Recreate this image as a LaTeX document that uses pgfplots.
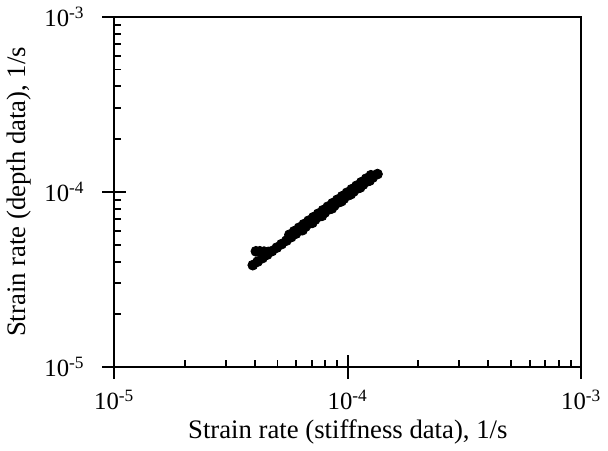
\documentclass[border=0pt]{standalone}
\usepackage{fontspec}
\setmainfont{Liberation Serif}
\usepackage{pgfplots}
\pgfplotsset{compat=1.18}
\begin{document}
\begin{tikzpicture}
\begin{axis}[
 xmode=log, ymode=log,
 scale only axis, width=236pt, height=177pt,
 xmin=1e-5, xmax=1e-3, ymin=1e-5, ymax=1e-3,
 clip=false,
 axis line style={line width=1pt},
 xtick={1e-5,1e-4,1e-3}, ytick={1e-5,1e-4,1e-3},
 xticklabels={10\textsuperscript{-5},10\textsuperscript{-4},10\textsuperscript{-3}},
 yticklabels={10\textsuperscript{-5},10\textsuperscript{-4},10\textsuperscript{-3}},
 xtick pos=bottom, ytick pos=left,
 tick align=center,
 major tick length=12pt, minor tick length=3.5pt,
 every tick/.style={black, line width=1pt},
 minor x tick style={yshift=1.75pt},
 minor y tick style={xshift=1.75pt},
 tick label style={font=\fontsize{12.5}{15}\selectfont},
 xticklabel style={yshift=-2pt},
 yticklabel style={xshift=-5.5pt},
 label style={font=\fontsize{13.5}{16}\selectfont},
 xlabel={Strain rate (stiffness data), 1/s},
 ylabel={Strain rate (depth data), 1/s},
 xlabel style={yshift=2pt},
]
\pgfplotsinvokeforeach{0,0.5,1}{
  \draw[line width=1pt] ([yshift=-6pt]rel axis cs:#1,0) -- ([yshift=6pt]rel axis cs:#1,0);
  \draw[line width=1pt] ([xshift=-6pt]rel axis cs:0,#1) -- ([xshift=6pt]rel axis cs:0,#1);
}
\addplot[only marks, mark=*, mark size=2.5pt, black] coordinates {
(3.920e-5,3.819e-5) (4.109e-5,3.999e-5) (4.309e-5,4.187e-5) (4.517e-5,4.384e-5)
(4.735e-5,4.591e-5) (4.965e-5,4.807e-5) (5.205e-5,5.033e-5) (5.457e-5,5.270e-5)
(5.722e-5,5.519e-5) (5.998e-5,5.779e-5) (6.289e-5,6.051e-5) (6.594e-5,6.336e-5)
(6.912e-5,6.634e-5) (7.248e-5,6.947e-5) (7.598e-5,7.274e-5) (7.966e-5,7.617e-5)
(8.352e-5,7.976e-5) (8.756e-5,8.351e-5) (9.180e-5,8.745e-5) (9.625e-5,9.156e-5)
(1.009e-4,9.588e-5) (1.058e-4,1.004e-4) (1.109e-4,1.051e-4) (1.163e-4,1.101e-4)
(1.219e-4,1.153e-4) (1.278e-4,1.207e-4) (1.340e-4,1.264e-4)
(5.622e-5,5.695e-5) (5.894e-5,5.963e-5) (6.180e-5,6.243e-5) (6.479e-5,6.537e-5)
(6.792e-5,6.845e-5) (7.122e-5,7.168e-5) (7.466e-5,7.505e-5) (7.827e-5,7.859e-5)
(8.207e-5,8.230e-5) (8.604e-5,8.617e-5) (9.020e-5,9.023e-5) (9.458e-5,9.447e-5)
(9.914e-5,9.893e-5) (1.040e-4,1.036e-4) (1.090e-4,1.084e-4) (1.143e-4,1.136e-4)
(1.198e-4,1.190e-4) (1.256e-4,1.245e-4)
(6.40e-5,6.05e-5) (7.05e-5,6.66e-5) (7.75e-5,7.30e-5) (8.55e-5,8.05e-5)
(9.40e-5,8.85e-5) (1.03e-4,9.70e-5) (1.13e-4,1.06e-4) (1.24e-4,1.16e-4)
(4.04e-5,4.58e-5) (4.20e-5,4.58e-5) (4.38e-5,4.56e-5) (4.56e-5,4.54e-5)
};
\end{axis}
\end{tikzpicture}
\end{document}
